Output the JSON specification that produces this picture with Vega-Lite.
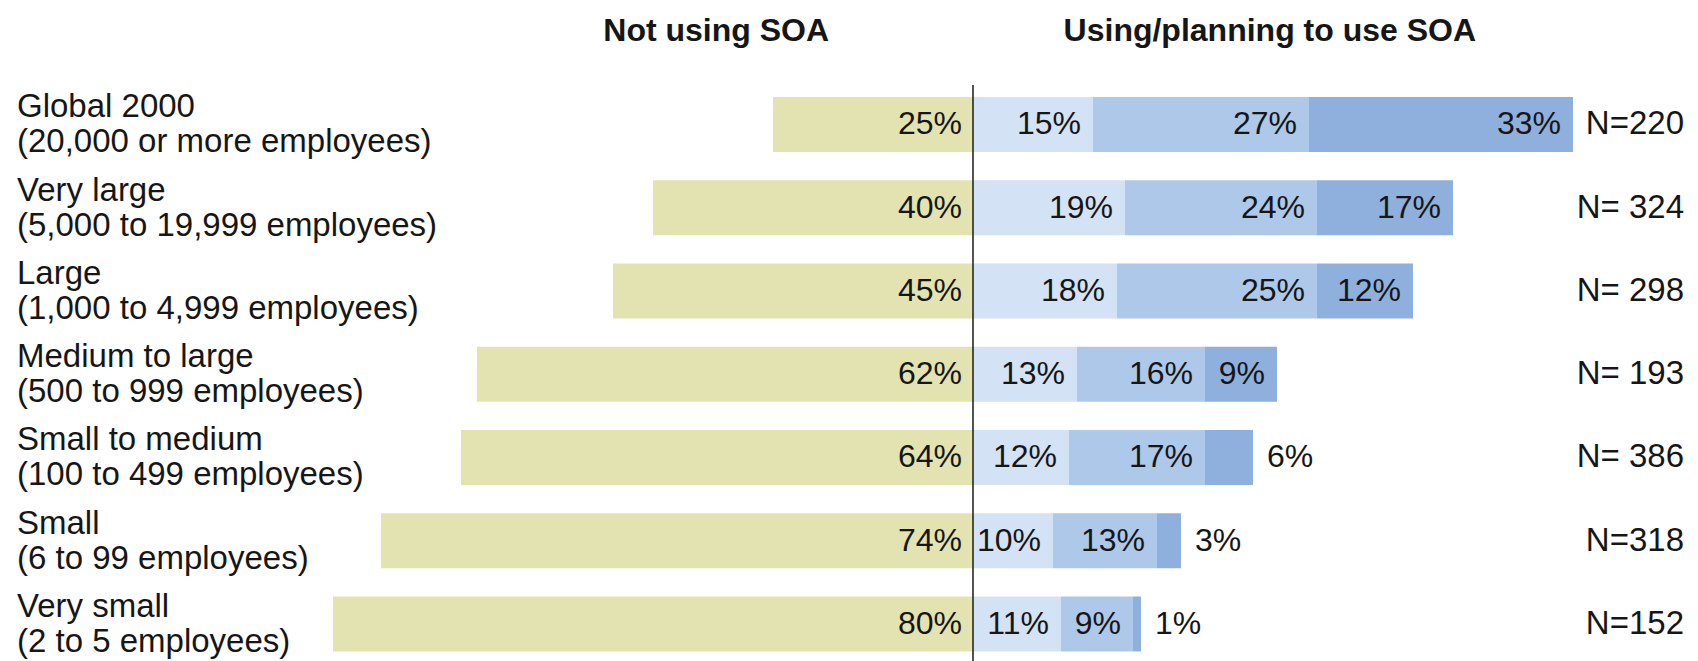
{
  "$schema": "https://vega.github.io/schema/vega-lite/v6.json",
  "width": 1698,
  "height": 661,
  "autosize": "none",
  "padding": 0,
  "background": "white",
  "config": {"view": {"stroke": null}, "text": {"font": "Liberation Sans", "color": "#161616"}},
  "datasets": {
    "seg": [
      {"g": "Global 2000", "s": "Not using SOA", "v": 25},
      {"g": "Global 2000", "s": "Tier 1", "v": 15},
      {"g": "Global 2000", "s": "Tier 2", "v": 27},
      {"g": "Global 2000", "s": "Tier 3", "v": 33},
      {"g": "Very large", "s": "Not using SOA", "v": 40},
      {"g": "Very large", "s": "Tier 1", "v": 19},
      {"g": "Very large", "s": "Tier 2", "v": 24},
      {"g": "Very large", "s": "Tier 3", "v": 17},
      {"g": "Large", "s": "Not using SOA", "v": 45},
      {"g": "Large", "s": "Tier 1", "v": 18},
      {"g": "Large", "s": "Tier 2", "v": 25},
      {"g": "Large", "s": "Tier 3", "v": 12},
      {"g": "Medium to large", "s": "Not using SOA", "v": 62},
      {"g": "Medium to large", "s": "Tier 1", "v": 13},
      {"g": "Medium to large", "s": "Tier 2", "v": 16},
      {"g": "Medium to large", "s": "Tier 3", "v": 9},
      {"g": "Small to medium", "s": "Not using SOA", "v": 64},
      {"g": "Small to medium", "s": "Tier 1", "v": 12},
      {"g": "Small to medium", "s": "Tier 2", "v": 17},
      {"g": "Small to medium", "s": "Tier 3", "v": 6},
      {"g": "Small", "s": "Not using SOA", "v": 74},
      {"g": "Small", "s": "Tier 1", "v": 10},
      {"g": "Small", "s": "Tier 2", "v": 13},
      {"g": "Small", "s": "Tier 3", "v": 3},
      {"g": "Very small", "s": "Not using SOA", "v": 80},
      {"g": "Very small", "s": "Tier 1", "v": 11},
      {"g": "Very small", "s": "Tier 2", "v": 9},
      {"g": "Very small", "s": "Tier 3", "v": 1}
    ],
    "groups": [
      {"g": "Global 2000", "label": "Global 2000\n(20,000 or more employees)", "n": "N=220"},
      {"g": "Very large", "label": "Very large\n(5,000 to 19,999 employees)", "n": "N= 324"},
      {"g": "Large", "label": "Large\n(1,000 to 4,999 employees)", "n": "N= 298"},
      {"g": "Medium to large", "label": "Medium to large\n(500 to 999 employees)", "n": "N= 193"},
      {"g": "Small to medium", "label": "Small to medium\n(100 to 499 employees)", "n": "N= 386"},
      {"g": "Small", "label": "Small\n(6 to 99 employees)", "n": "N=318"},
      {"g": "Very small", "label": "Very small\n(2 to 5 employees)", "n": "N=152"}
    ],
    "titles": [
      {"g": "header", "t": "Not using SOA"},
      {"g": "header", "t": "Using/planning to use SOA"}
    ]
  },
  "resolve": {"scale": {"x": "independent"}},
  "layer": [
    {
      "data": {"name": "seg"},
      "transform": [{"filter": "datum.s === 'Not using SOA'"}],
      "mark": {"type": "bar"},
      "encoding": {
        "y": {"field": "g", "type": "nominal", "axis": null, "scale": {"domain": ["header", "Global 2000", "Very large", "Large", "Medium to large", "Small to medium", "Small", "Very small"], "range": [-0.4, 665.6], "paddingInner": 0.34, "paddingOuter": 0.17}},
        "x": {"field": "v", "type": "quantitative", "axis": null, "scale": {"domain": [121.625, -90.625], "nice": false, "zero": false}},
        "x2": {"datum": 0},
        "color": {"value": "#e3e3b1"}
      }
    },
    {
      "data": {"name": "seg"},
      "transform": [
        {"filter": "datum.s !== 'Not using SOA'"},
        {"stack": "v", "groupby": ["g"], "sort": [{"field": "s"}], "as": ["v0", "v1"]}
      ],
      "mark": {"type": "bar"},
      "encoding": {
        "y": {"field": "g", "type": "nominal", "axis": null},
        "x": {"field": "v0", "type": "quantitative", "axis": null, "scale": {"domain": [-121.625, 90.625], "nice": false, "zero": false}},
        "x2": {"field": "v1"},
        "color": {"field": "s", "type": "nominal", "legend": null, "scale": {"domain": ["Tier 1", "Tier 2", "Tier 3"], "range": ["#d3e2f4", "#adc8e8", "#8fb0dc"]}}
      }
    },
    {
      "data": {"name": "seg"},
      "transform": [
        {"filter": "datum.s === 'Not using SOA'"},
        {"calculate": "datum.v + '%'", "as": "lab"}
      ],
      "mark": {"type": "text", "align": "right", "baseline": "middle", "dx": -11, "fontSize": 32},
      "encoding": {
        "y": {"field": "g", "type": "nominal", "axis": null},
        "x": {"datum": 0, "type": "quantitative", "axis": null, "scale": {"domain": [-121.625, 90.625], "nice": false, "zero": false}},
        "text": {"field": "lab"}
      }
    },
    {
      "data": {"name": "seg"},
      "transform": [
        {"filter": "datum.s !== 'Not using SOA'"},
        {"stack": "v", "groupby": ["g"], "sort": [{"field": "s"}], "as": ["v0", "v1"]},
        {"filter": "datum.v >= 8"},
        {"calculate": "datum.v + '%'", "as": "lab"}
      ],
      "mark": {"type": "text", "align": "right", "baseline": "middle", "dx": -12, "fontSize": 32},
      "encoding": {
        "y": {"field": "g", "type": "nominal", "axis": null},
        "x": {"field": "v1", "type": "quantitative", "axis": null, "scale": {"domain": [-121.625, 90.625], "nice": false, "zero": false}},
        "text": {"field": "lab"}
      }
    },
    {
      "data": {"name": "seg"},
      "transform": [
        {"filter": "datum.s !== 'Not using SOA'"},
        {"stack": "v", "groupby": ["g"], "sort": [{"field": "s"}], "as": ["v0", "v1"]},
        {"filter": "datum.v < 8"},
        {"calculate": "datum.v + '%'", "as": "lab"}
      ],
      "mark": {"type": "text", "align": "left", "baseline": "middle", "dx": 14, "fontSize": 32},
      "encoding": {
        "y": {"field": "g", "type": "nominal", "axis": null},
        "x": {"field": "v1", "type": "quantitative", "axis": null, "scale": {"domain": [-121.625, 90.625], "nice": false, "zero": false}},
        "text": {"field": "lab"}
      }
    },
    {
      "data": {"name": "groups"},
      "mark": {"type": "text", "align": "left", "baseline": "middle", "dy": -17, "fontSize": 33, "lineBreak": "\n", "lineHeight": 35},
      "encoding": {
        "y": {"field": "g", "type": "nominal", "axis": null},
        "x": {"datum": -119.5, "type": "quantitative", "axis": null, "scale": {"domain": [-121.625, 90.625], "nice": false, "zero": false}},
        "text": {"field": "label"}
      }
    },
    {
      "data": {"name": "groups"},
      "mark": {"type": "text", "align": "right", "baseline": "middle", "fontSize": 33},
      "encoding": {
        "y": {"field": "g", "type": "nominal", "axis": null},
        "x": {"datum": 88.875, "type": "quantitative", "axis": null, "scale": {"domain": [-121.625, 90.625], "nice": false, "zero": false}},
        "text": {"field": "n"}
      }
    },
    {
      "data": {"name": "titles"},
      "transform": [{"filter": "datum.t === 'Not using SOA'"}],
      "mark": {"type": "text", "align": "center", "baseline": "alphabetic", "fontSize": 32, "fontWeight": "bold"},
      "encoding": {
        "y": {"field": "g", "type": "nominal", "axis": null},
        "x": {"datum": -32.1, "type": "quantitative", "axis": null, "scale": {"domain": [-121.625, 90.625], "nice": false, "zero": false}},
        "text": {"field": "t"}
      }
    },
    {
      "data": {"name": "titles"},
      "transform": [{"filter": "datum.t !== 'Not using SOA'"}],
      "mark": {"type": "text", "align": "center", "baseline": "alphabetic", "fontSize": 32, "fontWeight": "bold"},
      "encoding": {
        "y": {"field": "g", "type": "nominal", "axis": null},
        "x": {"datum": 37.1, "type": "quantitative", "axis": null, "scale": {"domain": [-121.625, 90.625], "nice": false, "zero": false}},
        "text": {"field": "t"}
      }
    },
    {
      "data": {"values": [{}]},
      "mark": {"type": "rule", "color": "#1a1a1a", "strokeWidth": 1.5},
      "encoding": {
        "x": {"datum": 0, "type": "quantitative", "axis": null, "scale": {"domain": [-121.625, 90.625], "nice": false, "zero": false}},
        "y": {"datum": "Global 2000", "bandPosition": -0.22, "axis": null},
        "y2": {"value": "height"}
      }
    }
  ]
}
